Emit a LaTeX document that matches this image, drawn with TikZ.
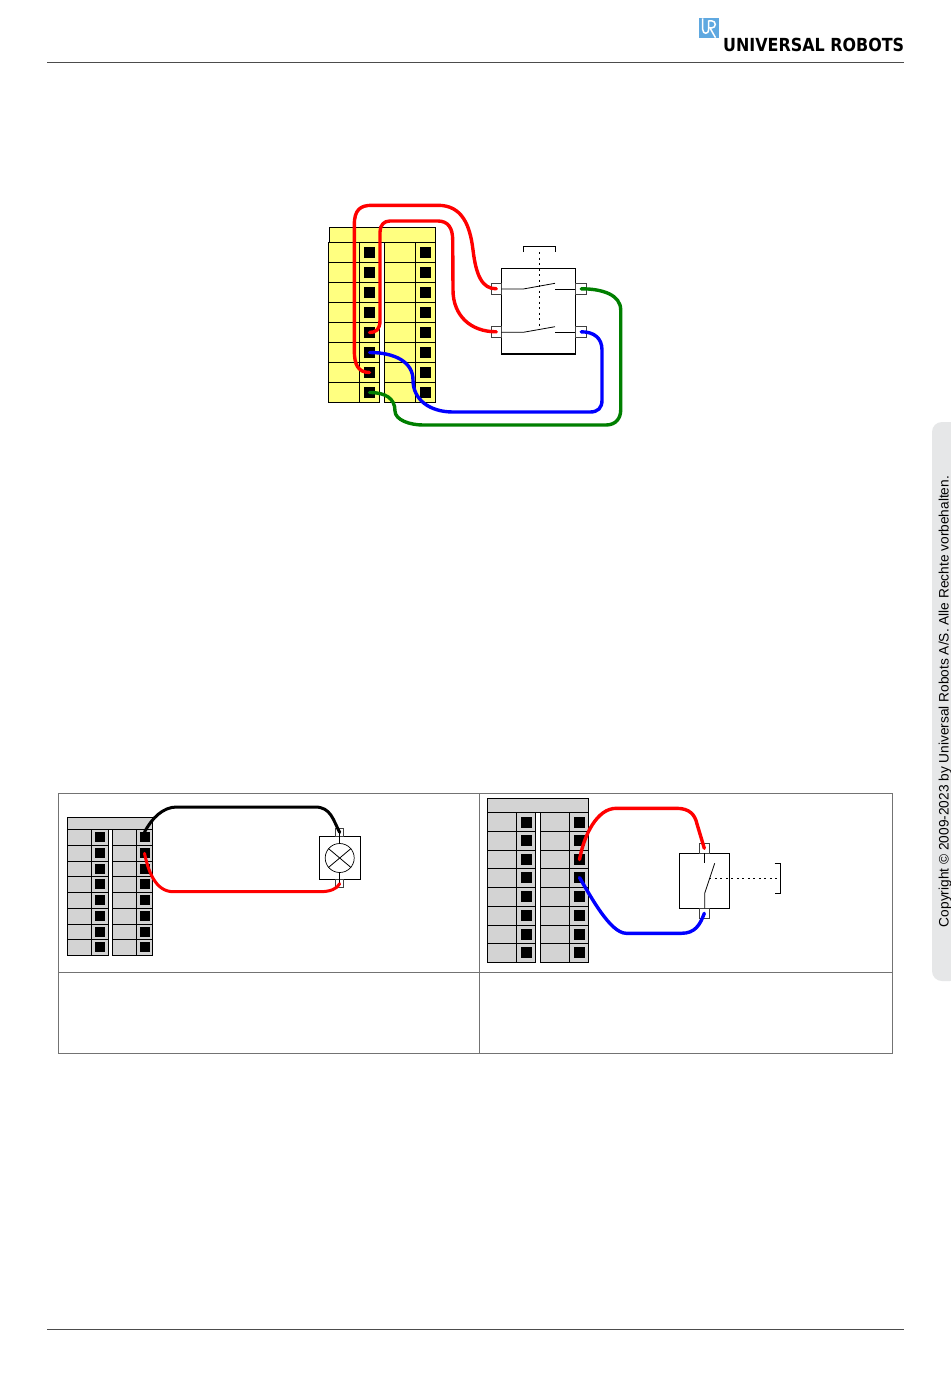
\documentclass[tikz,border=0pt]{standalone}
\usepackage{fontspec}
\setmainfont{Liberation Sans}
\newfontfamily\logofont{DejaVu Sans}
\usetikzlibrary{positioning,calc}
\definecolor{tabgray}{HTML}{E6E7E8}
\definecolor{logoblue}{HTML}{5FA8E0}
\definecolor{termyellow}{HTML}{FFFF80}
\definecolor{termgray}{HTML}{D3D3D3}
\definecolor{wiregreen}{HTML}{007F00}
\tikzset{
  cell/.style={draw=black,line width=0.8pt},
  pinbig/.style={fill=black,inner sep=0pt,minimum size=11pt},
  pinsmall/.style={fill=black,inner sep=0pt,minimum width=10pt,minimum height=10pt},
  contact/.style={draw=black!75,fill=white,line width=0.7pt,inner sep=0pt},
  wire/.style={line width=3.4pt,line cap=round,line join=round},
  thinwire/.style={line width=3pt,line cap=round,line join=round},
  frame/.style={draw=black!55,line width=1pt},
  rule/.style={draw=black!70,line width=0.8pt},
  linkage/.style={line width=0.9pt,dash pattern=on 2pt off 3.5pt}
}
\begin{document}
\begin{tikzpicture}[x=1pt,y=-1pt]
  \fill[white] (0,0) rectangle (950,1378);
  \useasboundingbox (0,0) rectangle (950,1378);

  % page header, footer and side tab
  \draw[rule] (47,62.5) coordinate (headl) -- (904,62.5) coordinate (headr);
  \draw[rule] (47,1329.5) coordinate (footl) -- (904,1329.5) coordinate (footr);
  \fill[tabgray,rounded corners=10pt] (932,422) rectangle (960,981);
  \node[rotate=90,font=\fontsize{13.7}{13.7}\selectfont,inner sep=0pt] (copyright) at (945,701.5)
    {Copyright © 2009-2023 by Universal Robots A/S. Alle Rechte vorbehalten.};
  \fill[logoblue] (699,18.3) rectangle (718.7,37.7);
  \draw[white,line width=1.5pt] (702.7,18.3) -- (702.7,29.5) .. controls (702.7,34.5) and (708.7,34.5) .. (708.7,29.5) -- (708.7,20.5);
  \draw[white,line width=1.5pt] (708.7,20.8) -- (711.5,20.8) .. controls (716.5,20.8) and (716.5,28) .. (711.5,28) -- (710,28) -- (715.5,37.7);
  \node[anchor=base west,inner sep=0pt,xscale=0.885,font=\logofont\bfseries\fontsize{18}{18}\selectfont] (logo) at (723,52)
    {UNIVERSAL ROBOTS};

  % first terminal block
  \draw[cell,fill=termyellow] (329.3,227.3) rectangle (435.3,242.3);
  \foreach \i/\y in {1/242.3,2/262.3,3/282.3,4/302.3,5/322.3,6/342.3,7/362.3,8/382.3} {
    \draw[cell,fill=termyellow] (328.3,\y) rectangle (359.3,\y+20);
    \draw[cell,fill=termyellow] (359.3,\y) rectangle (379.3,\y+20);
    \draw[cell,fill=termyellow] (384,\y) rectangle (415.3,\y+20);
    \draw[cell,fill=termyellow] (415.3,\y) rectangle (435.3,\y+20);
    \node[pinbig] (a\i) at (369.5,\y+10.2) {};
    \node[pinbig] (b\i) at (425.5,\y+10.2) {};
  }

  % double switch
  \draw[cell] (501.3,268.7) rectangle (575.3,354);
  \draw[line width=1.4pt] (501.3,268.7) -- (575.3,268.7);
  \draw[line width=1.4pt] (501.3,354) -- (575.3,354);
  \node[contact,minimum width=10pt,minimum height=11pt] (c1) at (496.3,288.8) {};
  \node[contact,minimum width=10pt,minimum height=11pt] (c2) at (496.3,331.8) {};
  \node[contact,minimum width=11pt,minimum height=11pt] (d1) at (581.2,288.8) {};
  \node[contact,minimum width=11pt,minimum height=11pt] (d2) at (581.2,331.8) {};
  \draw[cell] (501.3,289) -- (523.3,289) -- (555,283.3);
  \draw[cell] (555,289) -- (575.3,289);
  \draw[cell] (501.3,332.3) -- (523.3,332.3) -- (555,326.7);
  \draw[cell] (555,332.3) -- (575.3,332.3);
  \draw[linkage] (539.3,252) -- (539.3,329.3);
  \draw[cell] (523.3,252) -- (523.3,246.7) -- (555.3,246.7) -- (555.3,252);

  \draw[wire,red] (a7.center) .. controls (358,372.3) and (354.3,365) .. (354.3,350) -- (354.3,225)
    .. controls (354.3,210) and (360,205.3) .. (372,205.3) -- (438,205.3)
    .. controls (462,205.3) and (470,225) .. (473,250) .. controls (476,275) and (482,289) .. (c1.center);
  \draw[wire,red] (a5.center) .. controls (376,332.3) and (380,330) .. (380,320) -- (380,232)
    .. controls (380,225) and (384,221) .. (390,221) -- (438,221)
    .. controls (448,221) and (452.7,228) .. (452.7,240) -- (453,290)
    .. controls (453,315) and (470,331.8) .. (c2.center);
  \draw[wire,blue] (a6.center) .. controls (395,352.5) and (413,362) .. (413,380)
    .. controls (413,400) and (430,412) .. (453,412) -- (590,412)
    .. controls (598,412) and (602,408) .. (602,400) -- (602,350)
    .. controls (602,338) and (594,331.8) .. (d2.center);
  \draw[wire,wiregreen] (a8.center) .. controls (385,392.5) and (395,398) .. (395,411)
    .. controls (395,420) and (410,425) .. (423,425) -- (606,425)
    .. controls (616,425) and (620.7,418) .. (620.7,410) -- (620.7,310)
    .. controls (620.7,295) and (603,288.8) .. (d1.center);

  % table
  \draw[frame] (58.3,793.3) rectangle (892.3,1053.3);
  \draw[frame] (58.3,972.3) -- (892.3,972.3);
  \draw[frame] (479.3,793.3) -- (479.3,1053.3);

  % lamp side
  \draw[cell,fill=termgray] (67.3,817.3) rectangle (152.7,829.3);
  \foreach \i/\y/\h in {1/829.3/16,2/845.3/16,3/861.3/15,4/876.3/16,5/892.3/16,6/908.3/16,7/924.3/15,8/939.3/16} {
    \draw[cell,fill=termgray] (67.3,\y) rectangle (91.7,\y+\h);
    \draw[cell,fill=termgray] (91.7,\y) rectangle (108.3,\y+\h);
    \draw[cell,fill=termgray] (112.3,\y) rectangle (136.7,\y+\h);
    \draw[cell,fill=termgray] (136.7,\y) rectangle (152.7,\y+\h);
    \node[pinsmall] (e\i) at (100,\y+8) {};
    \node[pinsmall] (f\i) at (144.5,\y+8) {};
  }
  \draw[cell] (319.3,836.3) rectangle (360.7,879.7);
  \node[draw=black,line width=0.7pt,circle,inner sep=0pt,minimum size=29pt] (lamp) at (339.7,858) {};
  \draw[cell] (lamp.40) -- (lamp.220);
  \draw[cell] (lamp.140) -- (lamp.320);
  \node[contact,minimum width=8pt,minimum height=8pt] (l1) at (339.7,832.3) {};
  \node[contact,minimum width=8pt,minimum height=8pt] (l2) at (339.7,883.7) {};
  \draw[cell] (l1.center) -- (lamp.north);
  \draw[cell] (l2.center) -- (lamp.south);
  \draw[thinwire,black] (f1.north) .. controls (152,818) and (163,807) .. (176.7,807) -- (315,807)
    .. controls (331,807) and (333,820) .. (l1.center);
  \draw[thinwire,red] (f2.center) .. controls (148,870) and (155,891.7) .. (173.3,891.7) -- (320,891.7)
    .. controls (330,891.7) and (337,889) .. (l2.center);

  % switch side
  \draw[cell,fill=termgray] (487.3,798.3) rectangle (588.3,812.7);
  \foreach \i/\y/\h in {1/812.7/18.6,2/831.3/19,3/850.3/18,4/868.3/19,5/887.3/19,6/906.3/19,7/925.3/18,8/943.3/19} {
    \draw[cell,fill=termgray] (487.3,\y) rectangle (516.7,\y+\h);
    \draw[cell,fill=termgray] (516.7,\y) rectangle (535.7,\y+\h);
    \draw[cell,fill=termgray] (540.3,\y) rectangle (569.7,\y+\h);
    \draw[cell,fill=termgray] (569.7,\y) rectangle (588.3,\y+\h);
    \node[pinbig] (g\i) at (526.5,\y+9.3) {};
    \node[pinbig] (h\i) at (579.5,\y+9.3) {};
  }
  \draw[cell] (679.3,853.3) rectangle (729.3,908.3);
  \node[contact,minimum width=10pt,minimum height=10pt] (s1) at (704.3,848.3) {};
  \node[contact,minimum width=10pt,minimum height=10pt] (s2) at (704.3,913.3) {};
  \draw[cell] (704.7,853.3) -- (704.7,863.3);
  \draw[cell] (704.7,908.3) -- (704.7,893.3) -- (714.7,863.3);
  \draw[linkage] (709.3,878.3) -- (779.7,878.3);
  \draw[cell] (774.7,863.3) -- (780.3,863.3) -- (780.3,893.3) -- (774.7,893.3);
  \draw[wire,red] (h3.center) .. controls (584,835) and (597,808.3) .. (616.3,808.3) -- (676.3,808.3)
    .. controls (690,808.3) and (695,815) .. (697,824) -- (s1.center);
  \draw[wire,blue] (h4.center) .. controls (590,895) and (610,933.3) .. (626.3,933.3) -- (681.3,933.3)
    .. controls (695,933.3) and (700,925) .. (s2.center);
\end{tikzpicture}
\end{document}
